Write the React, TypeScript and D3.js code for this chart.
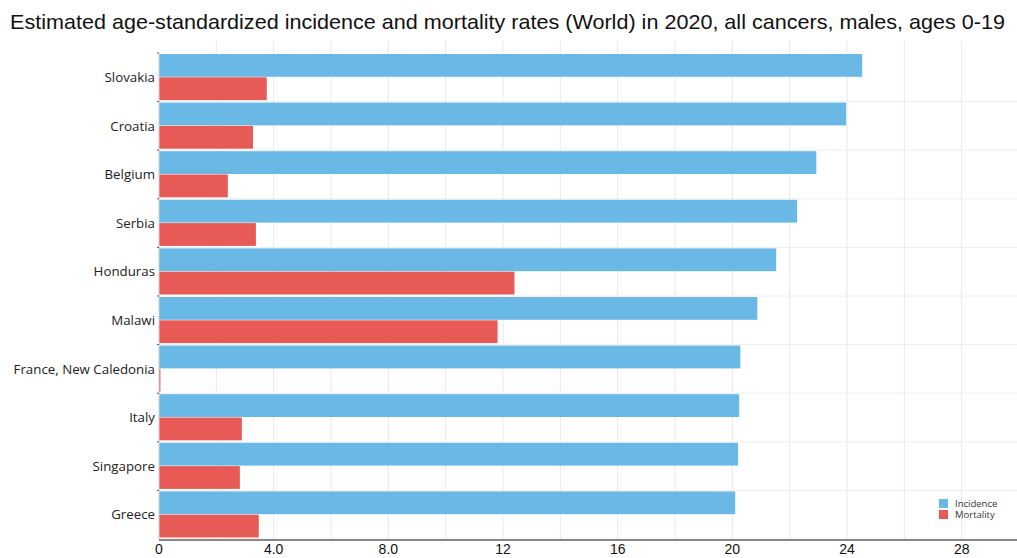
import React from "react";
import * as d3 from "d3";

const countries = [
  "Slovakia",
  "Croatia",
  "Belgium",
  "Serbia",
  "Honduras",
  "Malawi",
  "France, New Caledonia",
  "Italy",
  "Singapore",
  "Greece",
];
const incidence = [24.53, 23.97, 22.93, 22.26, 21.53, 20.87, 20.28, 20.24, 20.2, 20.1];
const mortality = [3.76, 3.28, 2.4, 3.38, 12.4, 11.81, 0.05, 2.89, 2.82, 3.48];
const xTicks = [0, 4, 8, 12, 16, 20, 24, 28];
const xTickLabels = ["0", "4.0", "8.0", "12", "16", "20", "24", "28"];
const gridValues = [2, 4, 6, 8, 10, 12, 14, 16, 18, 20, 22, 24, 26, 28, 30];
const seriesNames = ["Incidence", "Mortality"];
const seriesColors = ["#69b8e6", "#e85a55"];

const W = 1017;
const H = 558;
const M = { left: 159, right: 1019, top: 53, bottom: 539 };

export default function App() {
  const x = d3.scaleLinear().domain([0, 30]).range([M.left, M.right]);
  const y = d3.scaleBand<string>().domain(countries).range([M.top, M.bottom]).paddingInner(0).paddingOuter(0);
  const bw = y.bandwidth();
  const inner = d3.scaleBand<string>().domain(seriesNames).range([1, bw - 1]).padding(0);
  const series = [incidence, mortality];

  return (
    <svg
      width={W}
      height={H}
      style={{ position: "absolute", left: 0, top: 0, background: "#fff" }}
    >
      <text
        x={10}
        y={29}
        fontFamily="Liberation Sans, Arial, sans-serif"
        fontSize={21}
        fill="#111"
        textLength={995}
        lengthAdjust="spacingAndGlyphs"
      >
        Estimated age-standardized incidence and mortality rates (World) in 2020, all cancers, males, ages 0-19
      </text>

      {/* vertical grid */}
      {gridValues.map((v) => (
        <line key={"gv" + v} x1={x(v)} x2={x(v)} y1={M.top - 12} y2={M.bottom} stroke="#e8e8e8" strokeWidth={1} />
      ))}
      {/* horizontal grid at band boundaries */}
      {countries.map((c, i) => (
        <line key={"gh" + i} x1={M.left} x2={M.right} y1={(y(c) as number) + bw} y2={(y(c) as number) + bw} stroke="#eeeeee" strokeWidth={1} />
      ))}

      {/* bars */}
      {series.map((vals, si) =>
        countries.map((c, i) => (
          <rect
            key={si + "-" + i}
            x={x(0)}
            y={(y(c) as number) + (inner(seriesNames[si]) as number)}
            width={Math.max(0, x(vals[i]) - x(0))}
            height={inner.bandwidth() - 0.5}
            fill={seriesColors[si]}
          />
        ))
      )}

      {/* y axis */}
      <line x1={M.left} x2={M.left} y1={M.top} y2={M.bottom} stroke="#d0d0d0" />
      {countries.map((c, i) => (
        <line key={"yt" + i} x1={M.left - 2} x2={M.left} y1={y(c) as number} y2={y(c) as number} stroke="#555" />
      ))}
      {countries.map((c) => (
        <text
          key={"yl" + c}
          x={M.left - 4}
          y={(y(c) as number) + bw / 2}
          dy="0.35em"
          textAnchor="end"
          fontFamily="Open Sans, sans-serif"
          fontSize={13.3}
          fill="#222"
        >
          {c}
        </text>
      ))}

      {/* x axis */}
      <line x1={M.left} x2={M.right} y1={M.bottom + 1} y2={M.bottom + 1} stroke="#888" strokeWidth={2} />
      {xTicks.map((t, i) => (
        <text
          key={"xt" + t}
          x={x(t)}
          y={554}
          textAnchor="middle"
          fontFamily="Liberation Sans, Arial, sans-serif"
          fontSize={14}
          fill="#111"
        >
          {xTickLabels[i]}
        </text>
      ))}

      {/* legend */}
      {seriesNames.map((n, i) => (
        <g key={"lg" + n} transform={`translate(939, ${499 + i * 11})`}>
          <rect x={0} y={0} width={9} height={9} fill={seriesColors[i]} />
          <text x={16} y={8} fontFamily="Open Sans, sans-serif" fontSize={9.5} fill="#333">
            {n}
          </text>
        </g>
      ))}
    </svg>
  );
}
